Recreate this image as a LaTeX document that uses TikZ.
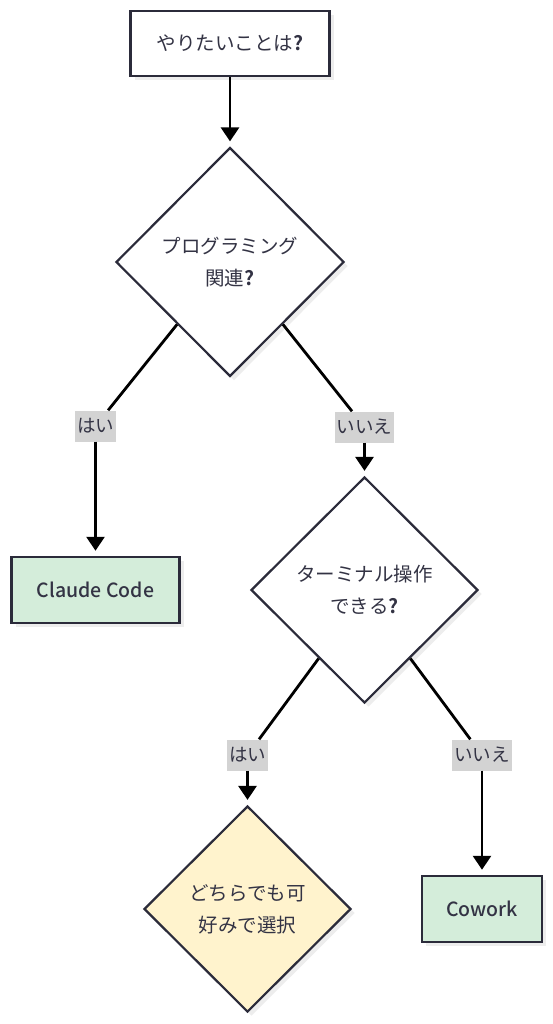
\documentclass[tikz,border=0pt]{standalone}
\usepackage{fontspec}
\setmainfont{Noto Sans CJK JP}[BoldFont={Noto Sans CJK JP Bold}]
\newfontfamily\medf{Noto Sans CJK JP Medium}
\usetikzlibrary{shapes.geometric,arrows.meta,shadows,calc}
\definecolor{edgec}{HTML}{2B2B3A}
\definecolor{txt}{HTML}{333344}
\definecolor{greenf}{HTML}{D4EDDA}
\definecolor{yellowf}{HTML}{FFF3CD}
\definecolor{lblf}{HTML}{D3D3D3}
\newcommand{\qm}{\textbf{?}}
\begin{document}
\begin{tikzpicture}[x=1pt,y=-1pt,
  every node/.style={text=txt, font=\fontsize{19.5}{32}\selectfont},
  shad/.style={drop shadow={shadow xshift=4pt,shadow yshift=-4pt,fill=black!7,opacity=1}},
  boxn/.style={draw=edgec, line width=2.5pt, rectangle, inner sep=0pt, shad},
  decn/.style={draw=edgec, line width=2.2pt, diamond, aspect=1, inner sep=0pt, align=center, shad},
  lbl/.style={fill=lblf, inner xsep=2pt, inner ysep=0pt, minimum height=31pt, font=\fontsize{18.5}{22}\selectfont},
  conn/.style={line width=2.8pt, black},
  arr/.style={conn, -{Triangle[width=18pt,length=14pt]}, shorten >=5pt}
]
\fill[white] (0,0) rectangle (553,1024);
\useasboundingbox (0,0) rectangle (553,1024);

\node[boxn, fill=white, minimum width=199pt, minimum height=65pt] (start) at (230,43.5) {やりたいことは\qm};
\node[decn, fill=white, minimum width=228pt, minimum height=229pt] (d1) at (230,262) {プログラミング\\関連\qm};
\node[boxn, fill=greenf, minimum width=168pt, minimum height=66pt, font=\medf\fontsize{19.5}{32}\selectfont] (cc) at (95.5,590) {Claude Code};
\node[decn, fill=white, minimum width=227pt, minimum height=226pt] (d2) at (364.5,590) {ターミナル操作\\できる\qm};
\node[decn, fill=yellowf, minimum width=207pt, minimum height=206pt] (d3) at (247.5,909) {どちらでも可\\好みで選択};
\node[boxn, fill=greenf, minimum width=120pt, minimum height=66pt, font=\medf\fontsize{19.5}{32}\selectfont] (cw) at (482,909) {Cowork};

\node[lbl] (l1) at (95.5,426) {はい};
\node[lbl] (l2) at (364.5,427) {いいえ};
\node[lbl] (l3) at (247.5,755) {はい};
\node[lbl] (l4) at (482,755) {いいえ};

\draw[arr] (start) -- (d1);
\draw[conn] ($(d1.west)!0.54!(d1.south)$) -- (l1);
\draw[arr] (l1) -- (cc);
\draw[conn] ($(d1.east)!0.54!(d1.south)$) -- (l2);
\draw[arr] (l2) -- (d2);
\draw[conn] ($(d2.west)!0.6!(d2.south)$) -- (l3);
\draw[arr] (l3) -- (d3);
\draw[conn] ($(d2.east)!0.6!(d2.south)$) -- (l4);
\draw[arr] (l4) -- (cw);
\end{tikzpicture}
\end{document}
